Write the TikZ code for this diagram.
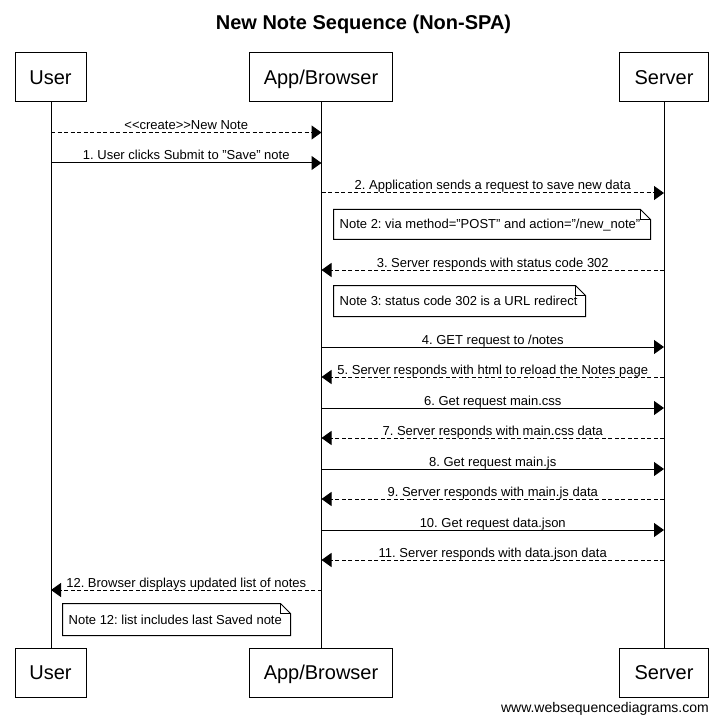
\documentclass[tikz,border=0pt]{standalone}
\usepackage{fontspec}
\setmainfont{Liberation Sans}
\usetikzlibrary{arrows.meta}
\frenchspacing
\begin{document}
\frenchspacing
\begin{tikzpicture}[x=1pt,y=-1pt,
  actor/.style={draw=black,line width=1pt,fill=white,minimum width=#1,minimum height=49pt,inner sep=0pt,font=\fontsize{20}{24}\selectfont},
  life/.style={line width=1pt},
  msg/.style={line width=1pt,-{Triangle[length=10pt,width=14pt]}},
  ret/.style={msg,dash pattern=on 4pt off 2.5pt},
  lbl/.style={anchor=base,inner sep=0pt,yshift=3pt,font=\fontsize{13}{15}\selectfont},
  notebox/.style={line width=1pt,fill=white},
  notetxt/.style={anchor=base west,inner sep=0pt,font=\fontsize{13}{15}\selectfont}]
\useasboundingbox (0,0) rectangle (723,722);
\fill[white] (0,0) rectangle (723,722);
% title
\node[anchor=base,inner sep=0pt,font=\bfseries\fontsize{20}{24}\selectfont] (title) at (363.5,30) {New Note Sequence (Non-SPA)};
% lifelines
\coordinate (uT) at (51,102); \coordinate (uB) at (51,648);
\coordinate (aT) at (321.5,102); \coordinate (aB) at (321.5,648);
\coordinate (sT) at (664,102); \coordinate (sB) at (664,648);
\draw[life] (uT) -- (uB);
\draw[life] (aT) -- (aB);
\draw[life] (sT) -- (sB);
% actors
\node[actor=71pt] (user) at (50.5,77.5) {};
\node[anchor=base,inner sep=0pt,font=\fontsize{20}{24}\selectfont] at (50.5,84.5) {User};
\node[actor=143pt] (app) at (321,77.5) {};
\node[anchor=base,inner sep=0pt,font=\fontsize{20}{24}\selectfont] at (321,84.5) {App/Browser};
\node[actor=89pt] (server) at (664,77.5) {};
\node[anchor=base,inner sep=0pt,font=\fontsize{20}{24}\selectfont] at (664,84.5) {Server};
\node[actor=71pt] (userb) at (50.5,672.5) {};
\node[anchor=base,inner sep=0pt,font=\fontsize{20}{24}\selectfont] at (50.5,679.5) {User};
\node[actor=143pt] (appb) at (321,672.5) {};
\node[anchor=base,inner sep=0pt,font=\fontsize{20}{24}\selectfont] at (321,679.5) {App/Browser};
\node[actor=89pt] (serverb) at (664,672.5) {};
\node[anchor=base,inner sep=0pt,font=\fontsize{20}{24}\selectfont] at (664,679.5) {Server};
% message points
\foreach \n/\y in {m0/132.5,m1/163,m2/193,m3/270,m4/347,m5/377,m6/408,m7/438,m8/469,m9/499,m10/530,m11/560,m12/590}{
  \coordinate (u\n) at (51,\y);
  \coordinate (a\n) at (321.5,\y);
  \coordinate (s\n) at (664,\y);
}
% messages
\draw[ret] (um0) -- node[lbl] {<{}<create>{}>New Note} (am0);
\draw[msg] (um1) -- node[lbl] {1. User clicks Submit to "Save" note} (am1);
\draw[ret] (am2) -- node[lbl] {2. Application sends a request to save new data} (sm2);
\draw[ret] (sm3) -- node[lbl] {3. Server responds with status code 302} (am3);
\draw[msg] (am4) -- node[lbl] {4. GET request to /notes} (sm4);
\draw[ret] (sm5) -- node[lbl] {5. Server responds with html to reload the Notes page} (am5);
\draw[msg] (am6) -- node[lbl] {6. Get request main.css} (sm6);
\draw[ret] (sm7) -- node[lbl] {7. Server responds with main.css data} (am7);
\draw[msg] (am8) -- node[lbl] {8. Get request main.js} (sm8);
\draw[ret] (sm9) -- node[lbl] {9. Server responds with main.js data} (am9);
\draw[msg] (am10) -- node[lbl] {10. Get request data.json} (sm10);
\draw[ret] (sm11) -- node[lbl] {11. Server responds with data.json data} (am11);
\draw[ret] (am12) -- node[lbl] {12. Browser displays updated list of notes} (um12);
% notes
\newcommand{\notepath}[4]{% left top right bottom
  \filldraw[notebox] (#1,#2) -- (#3-10,#2) -- (#3,#2+10) -- (#3,#4) -- (#1,#4) -- cycle;
  \draw[line width=1pt] (#3-10,#2) -- (#3-10,#2+10) -- (#3,#2+10);
}
\notepath{333.5}{209.5}{650.5}{239.5}
\node[notetxt] (n2) at (339.5,229) {Note 2: via method="POST" and action="/new\_note"};
\notepath{333.5}{285.5}{585.5}{316.5}
\node[notetxt] (n3) at (339.5,305.5) {Note 3: status code 302 is a URL redirect};
\notepath{62.5}{603.5}{290.5}{635.5}
\node[notetxt] (n12) at (68.5,624) {Note 12: list includes last Saved note};
% footer
\node[anchor=base east,inner sep=0pt,font=\fontsize{14}{16}\selectfont] (footer) at (709,712) {www.websequencediagrams.com};
\end{tikzpicture}
\end{document}
